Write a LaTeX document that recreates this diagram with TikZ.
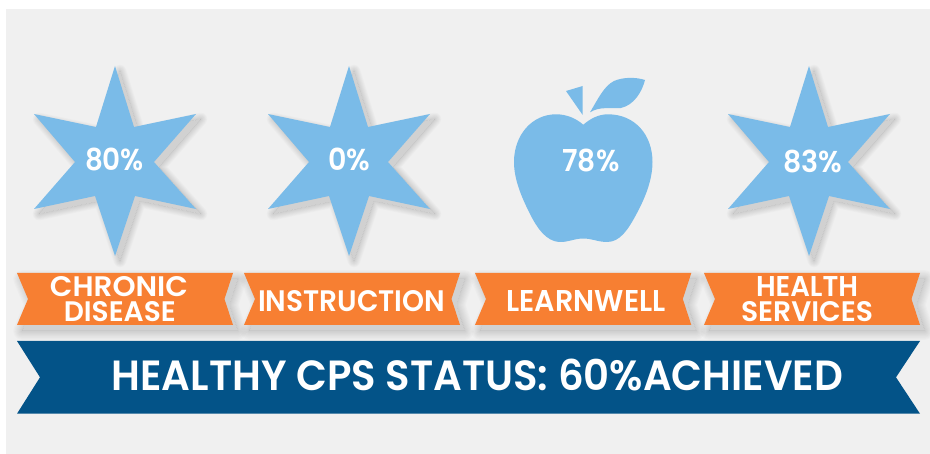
\documentclass[tikz,border=0pt]{standalone}
\usepackage{fontspec}
\usepackage{graphicx}
\setmainfont{Poppins}[BoldFont={Poppins SemiBold}]
\definecolor{panelbg}{HTML}{F0F0F0}
\definecolor{skyblue}{HTML}{7ABBE8}
\definecolor{ribbonorange}{HTML}{F77F32}
\definecolor{navyblue}{HTML}{035388}
\newcommand{\fittext}[3]{\resizebox{#1pt}{#2pt}{\bfseries #3}}
% soft shadow: flat core plus stacked translucent strokes kept outside the core
% #1,#2 offset; #3 stroke width step; #4 path
\newcommand{\softshadow}[4]{%
  \begin{scope}[shift={(#1,#2)}]
    \fill[black,fill opacity=0.125] #4;
    \begin{scope}[even odd rule]
      \clip (-100,-100) rectangle (1100,600) #4;
      \foreach \k in {1,...,8}{
        \draw[black,draw opacity=0.0165,line width=\k*#3 pt,line join=round] #4;
      }
    \end{scope}
  \end{scope}}
\newcommand{\starpath}[1]{%
  (#1,66) -- (#1+19,127) -- (#1+81,114) -- (#1+39,162) -- (#1+81,209) -- (#1+20,196) --
  (#1,256) -- (#1-20,196) -- (#1-81,209) -- (#1-40,162) -- (#1-81,114) -- (#1-19,127) -- cycle}
\newcommand{\ribbonpath}[2]{%
  (#1,273) -- (#2,273) -- (#2-8.5,299) -- (#2,325) -- (#1,325) -- (#1+11,299) -- cycle}
\tikzset{
  x=1pt,y=-1pt,
  pct/.style={text=white,inner sep=0pt,anchor=center},
  ribbontext/.style={text=white,inner sep=0pt,anchor=center},
  starfill/.style={fill=skyblue,draw=none},
  ribbonfill/.style={fill=ribbonorange,draw=none},
}
\begin{document}
\begin{tikzpicture}
\useasboundingbox (0,0) rectangle (930,454);
\fill[white] (0,0) rectangle (930,454);
\fill[panelbg] (6,9) rectangle (930,454);

% stars
\foreach \cx in {115,349,809}{
  \softshadow{5}{5}{1.6}{\starpath{\cx}}
  \path[starfill] \starpath{\cx};
}

% apple
\fill[starfill]
  (583.3,124.7) .. controls (590,119) and (598,114.3) .. (608,114.3)
  .. controls (635,114.3) and (652.5,135) .. (652.5,162)
  .. controls (652.5,180) and (645,198) .. (637,213)
  .. controls (628,230) and (620,242) .. (607,242)
  .. controls (598,242) and (592,238.5) .. (583.3,238.5)
  .. controls (574,238.5) and (568,242.5) .. (559,242)
  .. controls (546,241) and (537,228) .. (530,214)
  .. controls (522,198) and (514,180) .. (514,162)
  .. controls (514,135) and (532,114.3) .. (556,114.3)
  .. controls (567,114.3) and (576,118.5) .. (583.3,124.7) -- cycle;
\fill[starfill] (566,91) -- (582.7,86) -- (582.7,115) -- cycle;
\fill[starfill] (590,112.3) .. controls (598,99) and (604,86) .. (614,81)
  .. controls (623,77) and (636,77) .. (645,80)
  .. controls (642,92) and (634,105) .. (621,108)
  .. controls (611,109) and (600,106) .. (590,112.3) -- cycle;

% ribbons
\foreach \l/\r in {17/233,244/460,475/691.3,704/920}{
  \softshadow{5}{6}{2.2}{\ribbonpath{\l}{\r}}
  \path[ribbonfill] \ribbonpath{\l}{\r};
}
% banner
\fill[navyblue] (17,341) -- (920,341) -- (896,377.3) -- (920,413.7) -- (17,413.7) -- (40,377.3) -- cycle;

% star labels
\node[pct] (p1) at (114.5,159) {\fittext{59}{22.5}{80\%}};
\node[pct] (p2) at (349,159.5) {\fittext{42}{22.5}{0\%}};
\node[pct] (p3) at (591,160.5) {\fittext{57}{22.5}{78\%}};
\node[pct] (p4) at (813,161) {\fittext{59}{22.5}{83\%}};

% ribbon labels
\node[ribbontext] (t1) at (119,286.7) {\fittext{138}{20}{CHRONIC}};
\node[ribbontext] (t2) at (119.8,311.8) {\fittext{112}{20}{DISEASE}};
\node[ribbontext] (t3) at (351.7,301.5) {\fittext{187}{21}{INSTRUCTION}};
\node[ribbontext] (t4) at (586,301.5) {\fittext{159}{21}{LEARNWELL}};
\node[ribbontext] (t5) at (807,286.5) {\fittext{102}{20}{HEALTH}};
\node[ribbontext] (t6) at (807,312) {\fittext{132}{20}{SERVICES}};

% banner label
\node[ribbontext] (b) at (477.3,375) {\fittext{731}{31.5}{HEALTHY CPS STATUS: 60\%ACHIEVED}};
\end{tikzpicture}
\end{document}
